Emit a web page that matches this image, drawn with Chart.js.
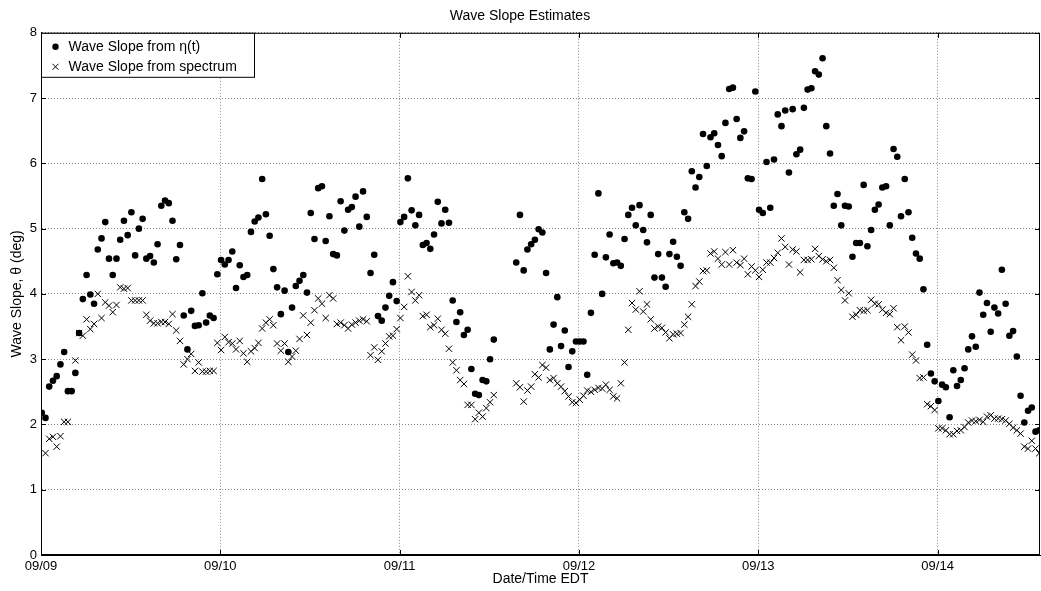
<!DOCTYPE html>
<html>
<head>
<meta charset="utf-8">
<title>Wave Slope Estimates</title>
<script src="https://cdn.jsdelivr.net/npm/chart.js@4.4.1/dist/chart.umd.min.js"></script>
<style>
    html, body { margin: 0; padding: 0; background: #fff; }
    #wrap { width: 1041px; height: 591px; }
</style>
</head>
<body>
<div id="wrap"><canvas id="slopeChart" width="1041" height="591"></canvas></div>
<script>
    // Half-hourly estimates, x in hours since 09/09 00:00 EDT
    const firstHour = 0.1;
    const stepHours = 0.5;
    const xMaxHours = 133.7;

    const dayTicks = [0, 24, 48, 72, 96, 120];
    const dayLabels = ['09/09', '09/10', '09/11', '09/12', '09/13', '09/14'];
    const slopeTicks = [0, 1, 2, 3, 4, 5, 6, 7, 8];

    // Wave slope from eta(t), degrees
    const slopeFromEta = [
        2.18, 2.10, 2.58, 2.67, 2.74, 2.92, 3.11, 2.51, 2.51, 2.79, 3.40, 3.92,
        4.29, 3.99, 3.85, 4.68, 4.85, 5.10, 4.54, 4.29, 4.54, 4.83, 5.12, 4.90,
        5.25, 4.59, 5.00, 5.15, 4.54, 4.58, 4.48, 4.76, 5.35, 5.43, 5.39, 5.12,
        4.53, 4.75, 3.67, 3.15, 3.74, 3.51, 3.52, 4.01, 3.56, 3.67, 3.63, 4.30,
        4.52, 4.45, 4.52, 4.65, 4.09, 4.44, 4.26, 4.29, 4.95, 5.11, 5.17, 5.76,
        5.22, 4.89, 4.38, 4.10, 3.69, 4.05, 3.11, 3.79, 4.12, 4.20, 4.29, 4.02,
        5.24, 4.84, 5.62, 5.65, 4.81, 5.19, 4.61, 4.59, 5.42, 4.97, 5.29, 5.33,
        5.49, 5.03, 5.57, 5.18, 4.32, 4.60, 3.66, 3.59, 3.79, 3.97, 4.18, 3.89,
        5.10, 5.18, 5.77, 5.28, 5.05, 5.21, 4.75, 4.78, 4.69, 4.91, 5.41, 5.08,
        5.29, 5.09, 3.90, 3.57, 3.72, 3.37, 3.45, 2.85, 2.47, 2.45, 2.68, 2.66,
        3.00, 3.30, null, null, null, null, null, 4.48, 5.21, 4.36, 4.68, 4.76,
        4.83, 4.99, 4.94, 4.32, 3.15, 3.53, 3.95, 3.20, 3.44, 2.88, 3.12, 3.27,
        3.27, 3.27, 2.76, 3.71, 4.60, 5.54, 4.00, 4.56, 4.91, 4.47, 4.48, 4.43,
        4.84, 5.21, 5.32, 5.05, 5.36, 4.98, 4.79, 5.21, 4.25, 4.61, 4.25, 4.11,
        4.61, 4.80, 4.57, 4.43, 5.25, 5.15, 5.88, 5.63, 5.79, 6.45, 5.96, 6.40,
        6.46, 6.28, 6.11, 6.62, 7.14, 7.16, 6.68, 6.39, 6.49, 5.77, 5.76, 7.10,
        5.29, 5.24, 6.02, 5.32, 6.06, 6.75, 6.57, 6.81, 5.86, 6.83, 6.14, 6.21,
        6.85, 7.13, 7.15, 7.41, 7.36, 7.61, 6.57, 6.15, 5.35, 5.53, 5.05, 5.35,
        5.34, 4.57, 4.78, 4.78, 5.67, 4.73, 4.98, 5.29, 5.37, 5.63, 5.65, 5.05,
        6.22, 6.10, 5.19, 5.76, 5.25, 4.86, 4.62, 4.54, 4.07, 3.22, 2.78, 2.66,
        2.36, 2.61, 2.57, 2.11, 2.83, 2.59, 2.68, 2.86, 3.15, 3.35, 3.19, 4.02,
        3.68, 3.86, 3.42, 3.79, 3.70, 4.37, 3.85, 3.36, 3.43, 3.04, 2.44, 2.03,
        2.21, 2.26, 1.89, 1.91
    ];

    // Wave slope from spectrum, degrees
    const slopeFromSpectrum = [
        null, 1.56, 1.78, 1.81, 1.66, 1.82, 2.04, 2.04, null, 2.98, 3.40, 3.36,
        3.61, 3.46, 3.54, 4.00, 3.63, 3.87, 3.82, 3.72, 3.83, 4.10, 4.08, 4.09,
        3.90, 3.90, 3.90, 3.90, 3.68, 3.59, 3.55, 3.55, 3.57, 3.57, 3.54, 3.69,
        3.44, 3.28, 2.92, 3.00, 3.08, 2.82, 2.95, 2.81, 2.81, 2.82, 2.82, 3.25,
        3.14, 3.34, 3.26, 3.24, 3.15, 3.28, 3.09, 2.96, 3.12, 3.17, 3.25, 3.47,
        3.56, 3.61, 3.52, 3.24, 3.13, 3.24, 2.96, 3.04, 3.13, 3.31, 3.67, 3.37,
        3.56, 3.75, 3.93, 3.85, 3.63, 3.98, 3.93, 3.54, 3.56, 3.52, 3.47, 3.53,
        3.56, 3.59, 3.61, 3.58, 3.06, 3.18, 2.99, 3.12, 3.24, 3.35, 3.36, 3.46,
        3.63, 3.80, 4.27, 4.03, 3.90, 3.98, 3.66, 3.68, 3.49, 3.52, 3.62, 3.45,
        3.39, 3.16, 2.95, 2.83, 2.68, 2.62, 2.30, 2.30, 2.08, 2.18, 2.12, 2.25,
        2.34, 2.45, null, null, null, null, null, 2.63, 2.57, 2.35, 2.52, 2.58,
        2.77, 2.72, 2.91, 2.87, 2.68, 2.71, 2.63, 2.58, 2.51, 2.43, 2.34, 2.33,
        2.38, 2.44, 2.52, 2.50, 2.53, 2.56, 2.55, 2.61, 2.53, 2.43, 2.40, 2.63,
        2.95, 3.45, 3.86, 3.76, 4.04, 3.73, 3.84, 3.61, 3.47, 3.50, 3.48, 3.41,
        3.32, 3.38, 3.39, 3.40, 3.53, 3.65, 3.84, 4.12, 4.19, 4.35, 4.36, 4.62,
        4.65, 4.54, 4.45, 4.64, 4.45, 4.67, 4.48, 4.44, 4.54, 4.30, 4.42, 4.36,
        4.26, 4.37, 4.48, 4.48, 4.55, 4.63, 4.85, 4.72, 4.45, 4.68, 4.65, 4.33,
        4.52, 4.52, 4.53, 4.69, 4.58, 4.53, 4.50, 4.52, 4.40, 4.21, 4.06, 3.90,
        4.01, 3.65, 3.68, 3.75, 3.74, 3.75, 3.91, 3.85, 3.84, 3.76, 3.71, 3.69,
        3.78, 3.49, 3.29, 3.50, 3.41, 3.07, 2.98, 2.71, 2.72, 2.31, 2.28, 2.22,
        1.94, 1.94, 1.91, 1.85, 1.85, 1.90, 1.91, 1.96, 2.03, 2.06, 2.05, 2.07,
        2.04, 2.12, 2.14, 2.09, 2.09, 2.08, 2.06, 2.01, 1.95, 1.91, 1.86, 1.66,
        1.63, 1.75, 1.63, 1.56
    ];

    const seriesLabels = ['Wave Slope from \u03b7(t)', 'Wave Slope from spectrum'];

    function toPoints(values) {
        return values
            .map((v, i) => ({ x: firstHour + i * stepHours, y: v }))
            .filter(p => p.y !== null);
    }

    const FONT = "'Liberation Sans', Arial, Helvetica, sans-serif";
    Chart.defaults.font.family = FONT;
    Chart.defaults.color = '#000';

    // matlab-ish box, inward ticks and legend in the upper left corner
    const axesBox = {
        id: 'axesBox',
        afterDraw(chart) {
            const { ctx, chartArea: a, scales } = chart;
            ctx.save();
            ctx.strokeStyle = '#000';
            ctx.lineWidth = 1;
            ctx.strokeRect(a.left + 0.5, a.top + 0.5, a.right - a.left - 1, a.bottom - a.top - 1);

            ctx.beginPath();
            dayTicks.forEach(t => {
                const x = Math.round(scales.x.getPixelForValue(t)) + 0.5;
                ctx.moveTo(x, a.bottom); ctx.lineTo(x, a.bottom - 5);
                ctx.moveTo(x, a.top); ctx.lineTo(x, a.top + 5);
            });
            slopeTicks.forEach(v => {
                const y = Math.round(scales.y.getPixelForValue(v)) + 0.5;
                ctx.moveTo(a.left, y); ctx.lineTo(a.left + 5, y);
                ctx.moveTo(a.right, y); ctx.lineTo(a.right - 5, y);
            });
            ctx.stroke();

            // legend
            const lx = a.left + 0.5, ly = a.top + 0.5, lw = 213, lh = 44;
            ctx.fillStyle = '#fff';
            ctx.fillRect(lx, ly, lw, lh);
            ctx.strokeRect(lx, ly, lw, lh);

            const rowY = [ly + 13.5, ly + 33.5];
            const mx = lx + 14;
            ctx.fillStyle = '#000';
            ctx.beginPath();
            ctx.arc(mx, rowY[0], 3.2, 0, Math.PI * 2);
            ctx.fill();
            ctx.beginPath();
            ctx.moveTo(mx - 3, rowY[1] - 3); ctx.lineTo(mx + 3, rowY[1] + 3);
            ctx.moveTo(mx - 3, rowY[1] + 3); ctx.lineTo(mx + 3, rowY[1] - 3);
            ctx.stroke();

            ctx.font = '14px ' + FONT;
            ctx.textBaseline = 'middle';
            ctx.textAlign = 'left';
            seriesLabels.forEach((s, i) => ctx.fillText(s, lx + 27, rowY[i]));
            ctx.restore();
        }
    };

    new Chart(document.getElementById('slopeChart'), {
        type: 'scatter',
        data: {
            datasets: [
                {
                    label: seriesLabels[0],
                    data: toPoints(slopeFromEta),
                    pointStyle: 'circle',
                    pointRadius: 3.3,
                    backgroundColor: '#000',
                    borderColor: '#000',
                    borderWidth: 0
                },
                {
                    label: seriesLabels[1],
                    data: toPoints(slopeFromSpectrum),
                    pointStyle: 'crossRot',
                    pointRadius: 4.5,
                    borderColor: '#000',
                    borderWidth: 1
                }
            ]
        },
        options: {
            responsive: false,
            animation: false,
            devicePixelRatio: 1,
            layout: { autoPadding: false, padding: { left: 0, right: 1, top: 0, bottom: 0 } },
            plugins: {
                legend: { display: false },
                tooltip: { enabled: false },
                title: {
                    display: true,
                    text: 'Wave Slope Estimates',
                    color: '#000',
                    font: { size: 14, weight: 'normal' },
                    padding: { top: 8, bottom: 8 }
                }
            },
            scales: {
                x: {
                    type: 'linear',
                    min: 0,
                    max: xMaxHours,
                    afterBuildTicks: scale => { scale.ticks = dayTicks.map(v => ({ value: v })); },
                    afterFit: scale => { scale.height = 36; },
                    ticks: {
                        font: { size: 13 },
                        color: '#000',
                        padding: 4,
                        maxRotation: 0,
                        callback: value => dayLabels[dayTicks.indexOf(value)]
                    },
                    grid: { color: '#888', lineWidth: 1, drawTicks: false },
                    border: { display: true, color: '#000', width: 1, dash: [1, 2] },
                    title: {
                        display: true,
                        text: 'Date/Time EDT',
                        font: { size: 14 },
                        color: '#000',
                        padding: { top: 0, bottom: 3 }
                    }
                },
                y: {
                    min: 0,
                    max: 8,
                    afterBuildTicks: scale => { scale.ticks = slopeTicks.map(v => ({ value: v })); },
                    afterFit: scale => { scale.width = 41; },
                    ticks: { font: { size: 13 }, color: '#000', padding: 4 },
                    grid: { color: '#888', lineWidth: 1, drawTicks: false },
                    border: { display: true, color: '#000', width: 1, dash: [1, 2] },
                    title: {
                        display: true,
                        text: 'Wave Slope, \u03b8 (deg)',
                        font: { size: 14 },
                        color: '#000',
                        padding: { top: 9, bottom: 0 }
                    }
                }
            }
        },
        plugins: [axesBox]
    });
</script>
</body>
</html>
